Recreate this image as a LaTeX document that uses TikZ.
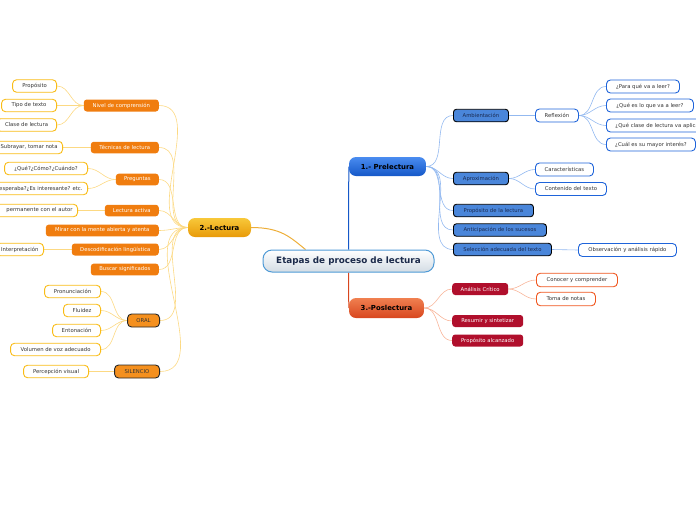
\documentclass[tikz,border=0pt]{standalone}
\usepackage{fontspec}
\setmainfont{DejaVu Sans}
\usetikzlibrary{positioning}
\definecolor{etBorder}{HTML}{4F9AD6}
\definecolor{etFill}{HTML}{D3DCE4}
\definecolor{etText}{HTML}{1B2A4A}
\definecolor{preTop}{HTML}{4A8CF0}
\definecolor{preBot}{HTML}{1558C8}
\definecolor{lecTop}{HTML}{F8C83A}
\definecolor{lecBot}{HTML}{E89A08}
\definecolor{posTop}{HTML}{F08050}
\definecolor{posBot}{HTML}{D8461E}
\definecolor{blueFill}{HTML}{4A86DA}
\definecolor{blueText}{HTML}{1A2A50}
\definecolor{blueEdge}{HTML}{1F64DA}
\definecolor{orangeFill}{HTML}{F07D0F}
\definecolor{oralFill}{HTML}{F5901E}
\definecolor{goldEdge}{HTML}{F9BC17}
\definecolor{crimsonFill}{HTML}{B00F2C}
\definecolor{redEdge}{HTML}{F0561E}
\definecolor{lineBlueC}{HTML}{93B9F0}
\definecolor{lineGoldC}{HTML}{FCD983}
\definecolor{lineRedC}{HTML}{F8B59A}
\definecolor{leafText}{HTML}{333333}
\pgfdeclarelayer{bg}
\pgfsetlayers{bg,main}

\begin{document}
\begin{tikzpicture}[x=1pt,y=-1pt,
    mainTopic/.style={rectangle, rounded corners=9pt, draw=etBorder, line width=1pt, top color=white, bottom color=etFill, text=etText, font=\fontsize{8.8}{10}\selectfont\bfseries, minimum width=171pt, minimum height=22pt},
    phaseBox/.style={rectangle, rounded corners=7pt, font=\fontsize{6.9}{8}\selectfont\bfseries, text=black, minimum height=19pt},
    blueTopic/.style={rectangle, rounded corners=3pt, anchor=west, draw=black, line width=0.9pt, fill=blueFill, text=blueText, font=\fontsize{5.3}{6}\selectfont, minimum height=12.5pt, inner xsep=0pt},
    blueLeaf/.style={rectangle, rounded corners=4pt, anchor=west, draw=blueEdge, line width=0.9pt, fill=white, text=leafText, font=\fontsize{5.3}{6}\selectfont, minimum height=13pt, inner xsep=0pt},
    orangeTopic/.style={rectangle, rounded corners=3pt, anchor=east, fill=orangeFill, text=white, font=\fontsize{5.3}{6}\selectfont, minimum height=11.5pt, inner xsep=0pt},
    oralTopic/.style={rectangle, rounded corners=4pt, anchor=east, draw=black!85, line width=0.9pt, fill=oralFill, text=black!80, font=\fontsize{5.3}{6}\selectfont, minimum height=13pt, inner xsep=0pt},
    goldLeaf/.style={rectangle, rounded corners=4pt, anchor=east, draw=goldEdge, line width=0.9pt, fill=white, text=leafText, font=\fontsize{5.3}{6}\selectfont, minimum height=12.5pt, inner xsep=5pt},
    redTopic/.style={rectangle, rounded corners=3pt, anchor=west, fill=crimsonFill, text=white, font=\fontsize{5.3}{6}\selectfont, minimum height=12pt, inner xsep=0pt},
    redLeaf/.style={rectangle, rounded corners=4pt, anchor=west, draw=redEdge, line width=0.9pt, fill=white, text=leafText, font=\fontsize{5.3}{6}\selectfont, minimum height=13.5pt, inner xsep=0pt},
    lineBlue/.style={draw=lineBlueC, line width=0.6pt},
    lineGold/.style={draw=lineGoldC, line width=0.6pt},
    lineRed/.style={draw=lineRedC, line width=0.6pt}
]
    \useasboundingbox (0,0) rectangle (696,520);
    \clip (0,0) rectangle (696,520);

    % centro
    \node[mainTopic] (etapas) at (348.5,261) {Etapas de proceso de lectura};

    % fases
    \node[phaseBox, top color=preTop, bottom color=preBot, minimum width=77pt] (pre) at (387.5,166.5) {1.- Prelectura};
    \node[phaseBox, top color=lecTop, bottom color=lecBot, minimum width=63pt] (lec) at (219.5,227.5) {2.-Lectura};
    \node[phaseBox, top color=posTop, bottom color=posBot, minimum width=75pt, minimum height=20pt] (pos) at (386.5,308) {3.-Poslectura};

    % 1.- Prelectura
    \node[blueTopic, minimum width=55pt] (amb) at (453,115.5) {Ambientación};
    \node[blueTopic, minimum width=55pt] (aprox) at (453,178.5) {Aproximación};
    \node[blueTopic, minimum width=80pt] (propl) at (453,210.5) {Propósito de la lectura};
    \node[blueTopic, minimum width=93pt] (antic) at (453,230) {Anticipación de los sucesos};
    \node[blueTopic, minimum width=98pt] (selec) at (453,249.5) {Selección adecuada del texto};

    \node[blueLeaf, minimum width=43pt] (refl) at (535,115.5) {Reflexión};
    \node[blueLeaf, minimum width=73pt] (q1) at (606,86.5) {¿Para qué va a leer?};
    \node[blueLeaf, minimum width=87pt] (q2) at (606,105.5) {¿Qué es lo que va a leer?};
    \node[blueLeaf, minimum width=110pt, align=left, text width=92pt] (q3) at (606,125.5) {¿Qué clase de lectura va aplicar?};
    \node[blueLeaf, minimum width=89pt] (q4) at (606,144.5) {¿Cuál es su mayor interés?};
    \node[blueLeaf, minimum width=58pt] (carac) at (535,169.5) {Características};
    \node[blueLeaf, minimum width=71pt] (conten) at (535,189) {Contenido del texto};
    \node[blueLeaf, minimum width=98pt] (obs) at (578,250) {Observación y análisis rápido};

    % 2.-Lectura
    \node[orangeTopic, minimum width=75pt] (nivel) at (159,105.5) {Nivel de comprensión};
    \node[orangeTopic, minimum width=68pt] (tecn) at (159,147.5) {Técnicas de lectura};
    \node[orangeTopic, minimum width=43pt] (preg) at (159,179.5) {Preguntas};
    \node[orangeTopic, minimum width=54pt] (activa) at (159,210.5) {Lectura activa};
    \node[orangeTopic, minimum width=113pt] (mirar) at (159,230.5) {Mirar con la mente abierta y atenta};
    \node[orangeTopic, minimum width=87pt] (desco) at (159,249.5) {Descodificación lingüística};
    \node[orangeTopic, minimum width=68pt] (buscar) at (159,269.5) {Buscar significados};
    \node[oralTopic, minimum width=32pt] (oral) at (160,320.5) {ORAL};
    \node[oralTopic, minimum width=45pt] (silen) at (160,371.5) {SILENCIO};

    \node[goldLeaf, minimum width=44pt] (propo) at (57,86) {Propósito};
    \node[goldLeaf, minimum width=55pt] (tipo) at (57,105.5) {Tipo de texto};
    \node[goldLeaf, minimum width=60pt] (clase) at (57,125) {Clase de lectura};
    \node[goldLeaf] (subr) at (63,147.5) {Subrayar, tomar nota};
    \node[goldLeaf, minimum width=83pt] (qcomo) at (88,168.5) {¿Qué?¿Cómo?¿Cuándo?};
    \node[goldLeaf] (qesp) at (88,188.5) {¿Qué esperaba?¿Es interesante? etc.};
    \node[goldLeaf, minimum width=110pt, align=right, text width=100pt] (perm) at (78,210.5) {permanente con el autor};
    \node[goldLeaf] (interp) at (44,249.5) {Interpretación};
    \node[goldLeaf, minimum width=56pt] (pronun) at (101,291.5) {Pronunciación};
    \node[goldLeaf, minimum width=37pt] (fluid) at (101,310.5) {Fluidez};
    \node[goldLeaf, minimum width=48pt] (enton) at (101,330.5) {Entonación};
    \node[goldLeaf, minimum width=90pt] (volum) at (101,349.5) {Volumen de voz adecuado};
    \node[goldLeaf, minimum width=65pt] (percep) at (89,371.5) {Percepción visual};

    % 3.-Poslectura
    \node[redTopic, minimum width=56pt] (anal) at (452,289) {Análisis Crítico};
    \node[redTopic, minimum width=71pt] (resum) at (452,321) {Resumir y sintetizar};
    \node[redTopic, minimum width=71pt] (propal) at (452,340.5) {Propósito alcanzado};
    \node[redLeaf, minimum width=81pt] (conoc) at (536,280) {Conocer y comprender};
    \node[redLeaf, minimum width=59pt] (toma) at (536,299) {Toma de notas};

    \begin{pgfonlayer}{bg}
        \draw[draw=preBot, line width=1pt] (etapas.north) -- (pre.west);
        \draw[draw=posBot, line width=1pt] (etapas.south) -- (pos.west);
        \draw[draw=lecBot!80, line width=1pt] (lec.east) .. controls +(30,0) and +(-15,-12) .. ([xshift=-43pt]etapas.north);

        \foreach \c in {amb,aprox,propl,antic,selec}
            \draw[lineBlue] (pre.east) to[out=0,in=180] (\c.west);
        \draw[lineBlue] (amb.east) -- (refl.west);
        \foreach \c in {q1,q2,q3,q4}
            \draw[lineBlue] (refl.east) to[out=0,in=180] (\c.west);
        \foreach \c in {carac,conten}
            \draw[lineBlue] (aprox.east) to[out=0,in=180] (\c.west);
        \draw[lineBlue] (selec.east) -- (obs.west);

        \foreach \c in {nivel,tecn,preg,activa,mirar,desco,buscar,oral,silen}
            \draw[lineGold] (lec.west) to[out=180,in=0] (\c.east);
        \foreach \c in {propo,tipo,clase}
            \draw[lineGold] (nivel.west) to[out=180,in=0] (\c.east);
        \draw[lineGold] (tecn.west) -- (subr.east);
        \foreach \c in {qcomo,qesp}
            \draw[lineGold] (preg.west) to[out=180,in=0] (\c.east);
        \draw[lineGold] (activa.west) -- (perm.east);
        \draw[lineGold] (desco.west) -- (interp.east);
        \foreach \c in {pronun,fluid,enton,volum}
            \draw[lineGold] (oral.west) to[out=180,in=0] (\c.east);
        \draw[lineGold] (silen.west) -- (percep.east);

        \foreach \c in {anal,resum,propal}
            \draw[lineRed] (pos.east) to[out=0,in=180] (\c.west);
        \foreach \c in {conoc,toma}
            \draw[lineRed] (anal.east) to[out=0,in=180] (\c.west);
    \end{pgfonlayer}
\end{tikzpicture}
\end{document}
